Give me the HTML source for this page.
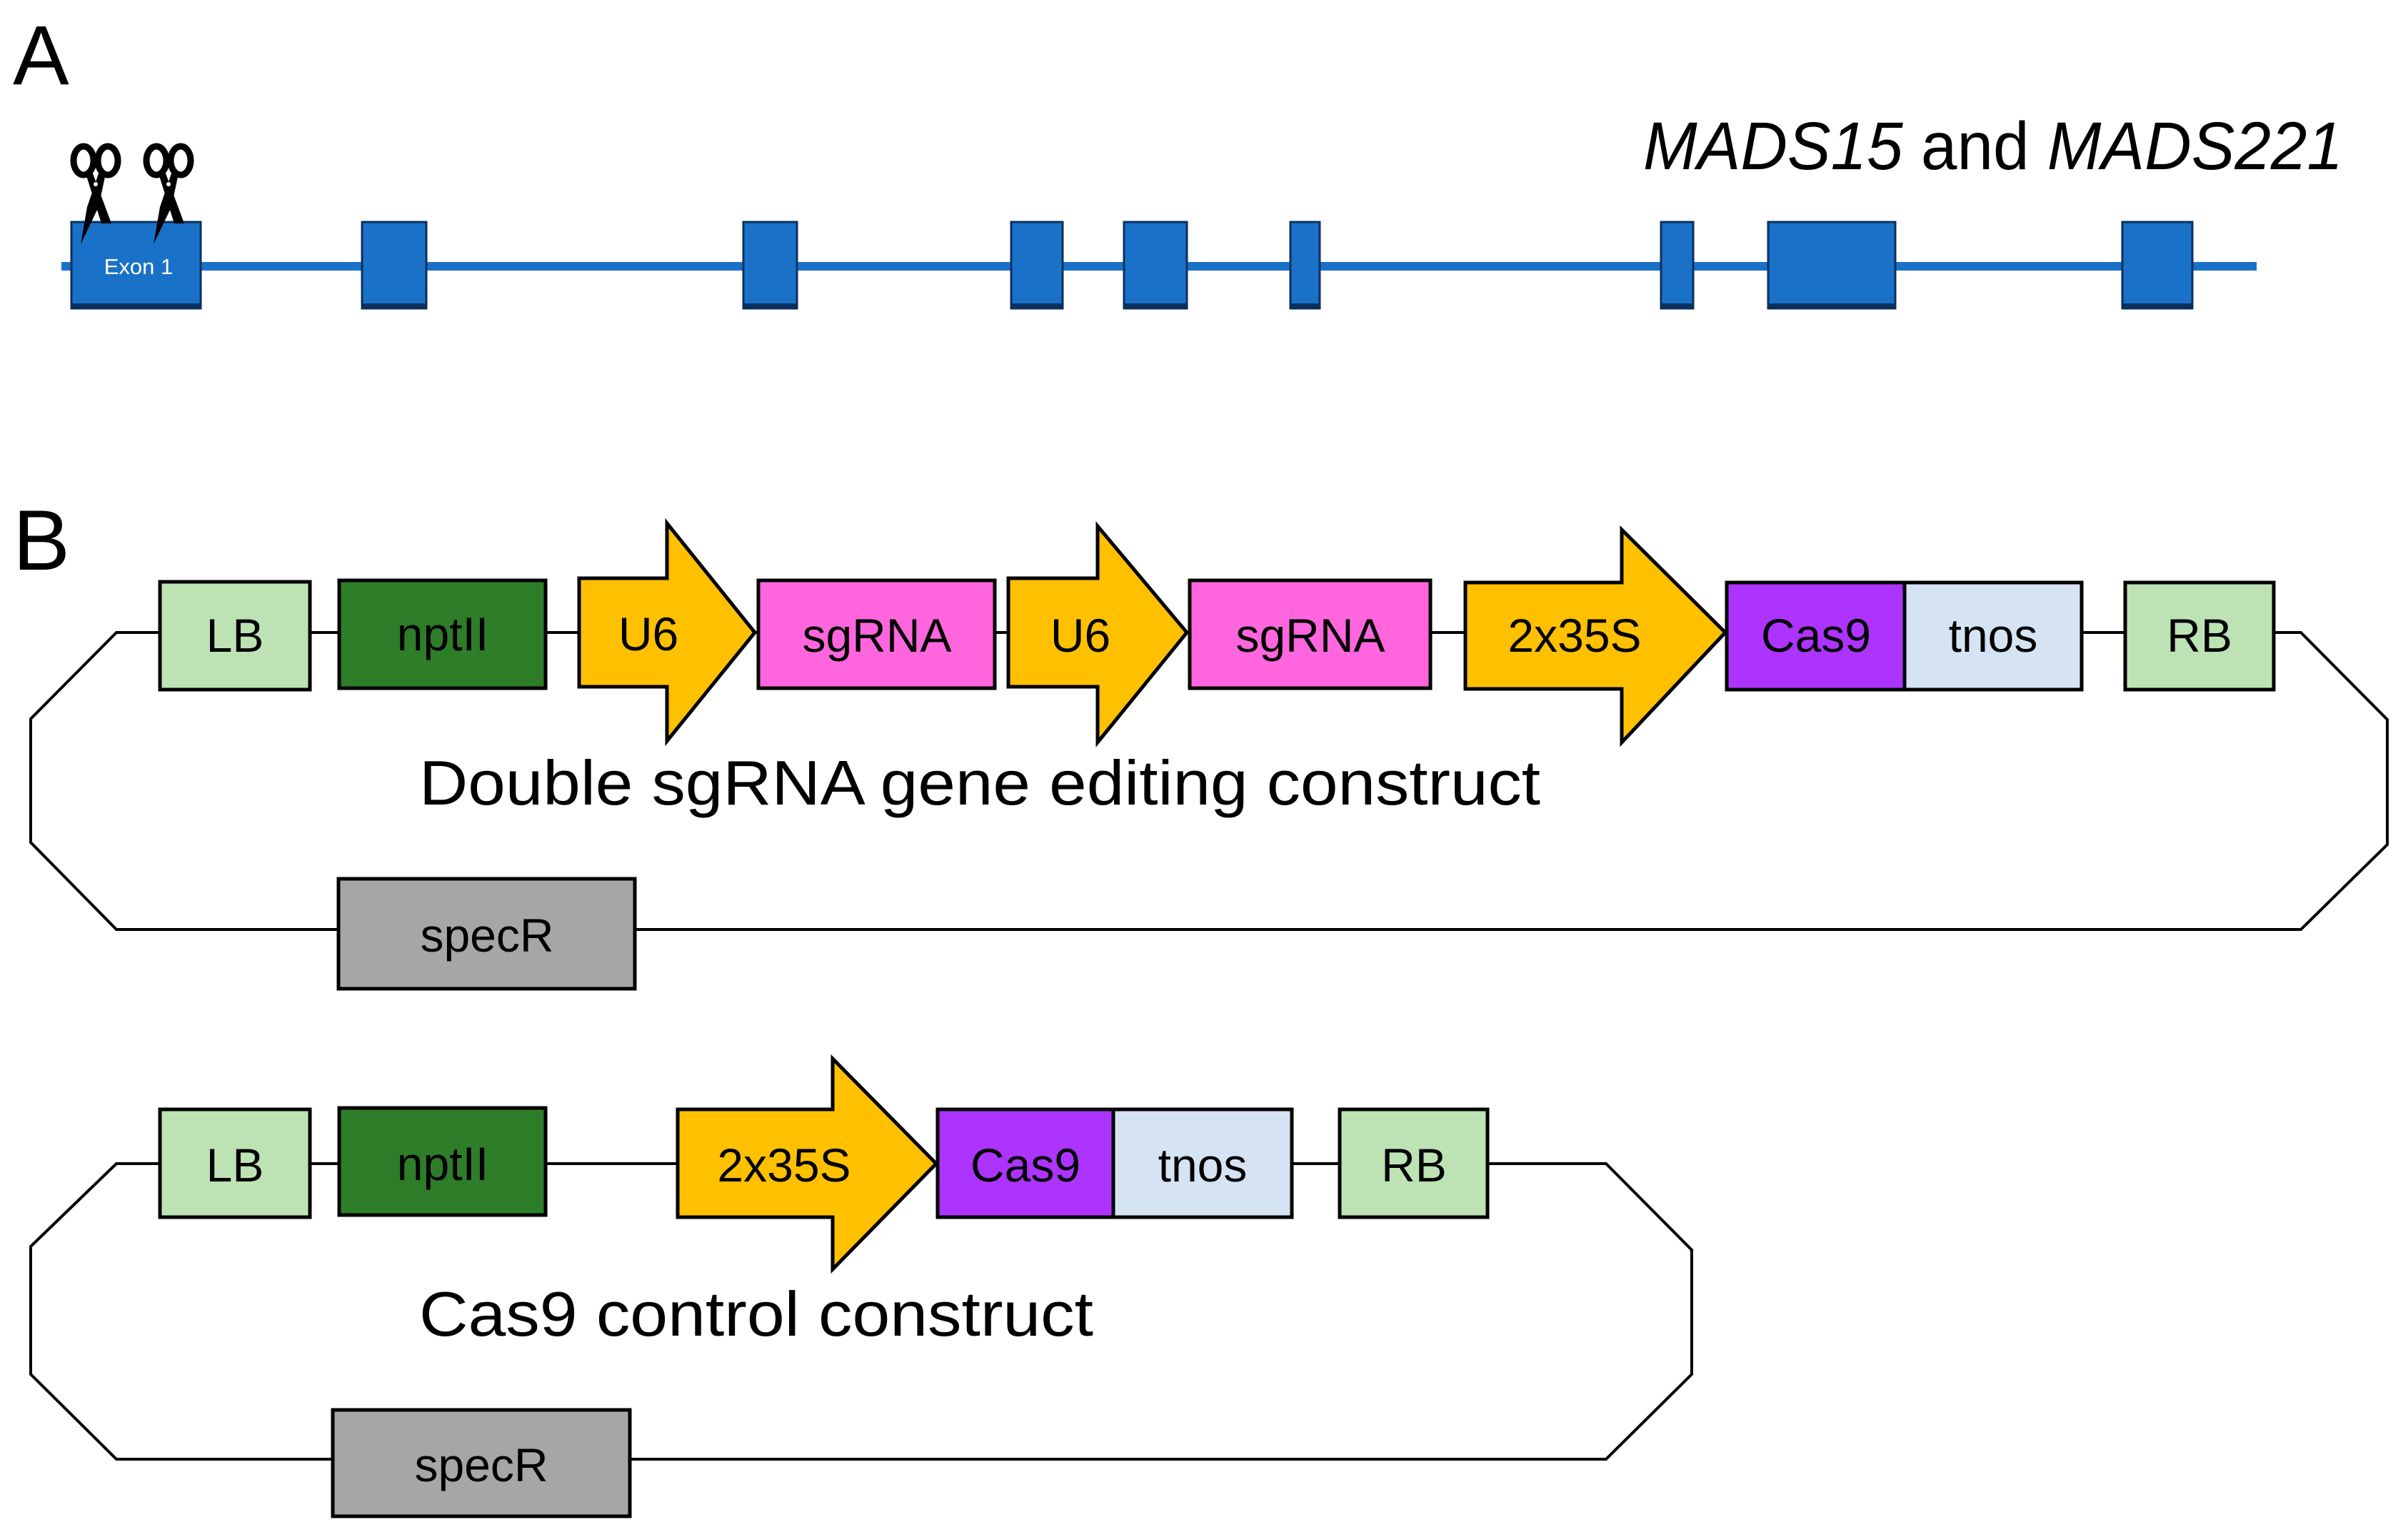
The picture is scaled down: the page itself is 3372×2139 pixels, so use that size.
<!DOCTYPE html>
<html><head><meta charset="utf-8"><style>
html,body{margin:0;padding:0;background:#fff;}
svg{display:block;}
text{font-family:"Liberation Sans",sans-serif;}
</style></head><body>
<svg width="3372" height="2139" viewBox="0 0 3372 2139" xmlns="http://www.w3.org/2000/svg">
<rect width="3372" height="2139" fill="#fff"/>
<!-- Panel A -->
<text x="18" y="118" font-size="118" fill="#000">A</text>
<text x="2301" y="237" font-size="95" fill="#000" textLength="980" lengthAdjust="spacingAndGlyphs"><tspan font-style="italic">MADS15</tspan> and <tspan font-style="italic">MADS221</tspan></text>
<rect x="86" y="367" width="3074" height="12" fill="#1a72c8"/>
<g fill="#1a72c8" stroke="#0b2f5e" stroke-width="3">
<rect x="100" y="311" width="181" height="121"/>
<rect x="507" y="311" width="90" height="121"/>
<rect x="1041" y="311" width="75" height="121"/>
<rect x="1416" y="311" width="72" height="121"/>
<rect x="1574" y="311" width="88" height="121"/>
<rect x="1807" y="311" width="41" height="121"/>
<rect x="2326" y="311" width="45" height="121"/>
<rect x="2476" y="311" width="178" height="121"/>
<rect x="2972" y="311" width="98" height="121"/>
</g>
<g fill="#0b2f5e">
<rect x="100" y="425" width="181" height="7"/><rect x="507" y="425" width="90" height="7"/><rect x="1041" y="425" width="75" height="7"/><rect x="1416" y="425" width="72" height="7"/><rect x="1574" y="425" width="88" height="7"/><rect x="1807" y="425" width="41" height="7"/><rect x="2326" y="425" width="45" height="7"/><rect x="2476" y="425" width="178" height="7"/><rect x="2972" y="425" width="98" height="7"/>
</g>
<text x="194" y="384" font-size="31" fill="#fff" text-anchor="middle">Exon 1</text>
<!-- scissors -->
<g>
<g transform="translate(134,0)">
<ellipse cx="-17" cy="225" rx="14" ry="20" stroke="#000" stroke-width="9" fill="none"/>
<ellipse cx="17" cy="225" rx="14" ry="20" stroke="#000" stroke-width="9" fill="none"/>
<polygon points="-14,243 -4,243 22,313 8,313" fill="#000"/>
<polygon points="4,243 14,243 4,290 -21,342 -12,290" fill="#000"/>
<circle cx="0" cy="258" r="3" fill="#fff"/>
</g>
<g transform="translate(236,0)">
<ellipse cx="-17" cy="225" rx="14" ry="20" stroke="#000" stroke-width="9" fill="none"/>
<ellipse cx="17" cy="225" rx="14" ry="20" stroke="#000" stroke-width="9" fill="none"/>
<polygon points="-14,243 -4,243 22,313 8,313" fill="#000"/>
<polygon points="4,243 14,243 4,290 -21,342 -12,290" fill="#000"/>
<circle cx="0" cy="258" r="3" fill="#fff"/>
</g>
</g>
<!-- Panel B -->
<text x="18" y="798" font-size="120" fill="#000">B</text>
<g stroke="#000" stroke-width="4" fill="none">
<path d="M163 886 L3222 886 L3343 1008 L3343 1183 L3222 1302 L163 1302 L43 1180 L43 1007 Z"/>
<path d="M163 1630 L2249 1630 L2369 1751 L2369 1925 L2249 2044 L163 2044 L43 1925 L43 1746 Z"/>
</g>
<g stroke="#000" stroke-width="5">
<!-- construct 1 -->
<rect x="224" y="815" width="210" height="151" fill="#bde3b5"/>
<rect x="475" y="813" width="289" height="151" fill="#2e7d28"/>
<polygon points="811,810 934,810 934,733 1057,886 934,1038 934,962 811,962" fill="#ffc000"/>
<rect x="1062" y="813" width="331" height="151" fill="#ff66dd"/>
<polygon points="1412,810 1537,810 1537,737 1662,886 1537,1040 1537,962 1412,962" fill="#ffc000"/>
<rect x="1666" y="813" width="337" height="151" fill="#ff66dd"/>
<polygon points="2052,816 2271,816 2271,742 2416,886 2271,1040 2271,965 2052,965" fill="#ffc000"/>
<rect x="2418" y="816" width="249" height="150" fill="#ad33ff"/>
<rect x="2667" y="816" width="248" height="150" fill="#d6e3f3"/>
<rect x="2976" y="816" width="208" height="150" fill="#bde3b5"/>
<rect x="474" y="1231" width="415" height="154" fill="#a6a6a6"/>
<!-- construct 2 -->
<rect x="224" y="1554" width="210" height="151" fill="#bde3b5"/>
<rect x="475" y="1552" width="289" height="150" fill="#2e7d28"/>
<polygon points="949,1554 1166,1554 1166,1483 1311,1630 1166,1778 1166,1705 949,1705" fill="#ffc000"/>
<rect x="1313" y="1554" width="246" height="151" fill="#ad33ff"/>
<rect x="1559" y="1554" width="250" height="151" fill="#d6e3f3"/>
<rect x="1876" y="1554" width="207" height="151" fill="#bde3b5"/>
<rect x="466" y="1975" width="416" height="149" fill="#a6a6a6"/>
</g>
<g font-size="66" text-anchor="middle" fill="#000">
<text x="329" y="913">LB</text>
<text x="620" y="911">nptII</text>
<text x="908" y="911">U6</text>
<text x="1228" y="913">sgRNA</text>
<text x="1513" y="913">U6</text>
<text x="1835" y="913">sgRNA</text>
<text x="2205" y="913">2x35S</text>
<text x="2543" y="913">Cas9</text>
<text x="2791" y="913">tnos</text>
<text x="3080" y="913">RB</text>
<text x="682" y="1333">specR</text>
<text x="329" y="1655">LB</text>
<text x="620" y="1653">nptII</text>
<text x="1098" y="1655">2x35S</text>
<text x="1436" y="1655">Cas9</text>
<text x="1684" y="1655">tnos</text>
<text x="1980" y="1655">RB</text>
<text x="674" y="2075">specR</text>
</g>
<text x="587" y="1127" font-size="88" fill="#000" textLength="1570" lengthAdjust="spacingAndGlyphs">Double sgRNA gene editing construct</text>
<text x="587" y="1871" font-size="88" fill="#000" textLength="944" lengthAdjust="spacingAndGlyphs">Cas9 control construct</text>
</svg>
</body></html>
